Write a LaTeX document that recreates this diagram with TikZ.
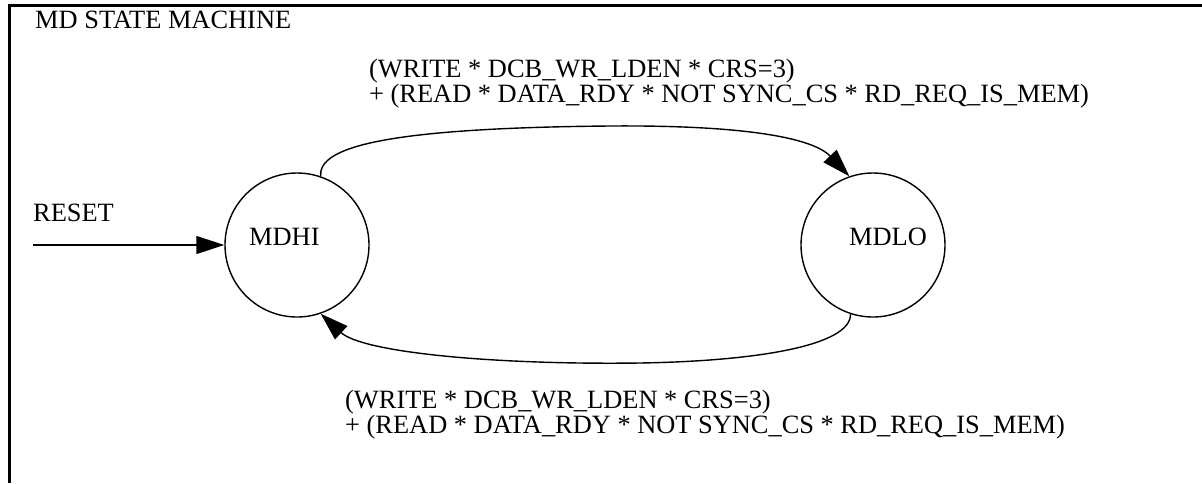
\documentclass[tikz,border=0pt]{standalone}
\usepackage{fontspec}
\setmainfont{Liberation Serif}
\usetikzlibrary{arrows.meta}
\begin{document}
\begin{tikzpicture}[x=1pt,y=-1pt,
  state/.style={draw,circle,line width=1.4pt,minimum size=144pt,inner sep=0pt},
  txt/.style={anchor=base west,inner sep=0pt,font=\fontsize{26.4}{26.4}\selectfont},
  conn/.style={line width=1.4pt,-{Triangle[length=28pt,width=18pt]}},
  frameline/.style={line width=3pt,line join=miter}]
\useasboundingbox (0,0) rectangle (1202,483);
% frame
\draw[frameline] (9.5,483) -- (9.5,5) -- (1202,5);
\node[txt] (title) at (35,28) {MD STATE MACHINE};
% states
\node[state] (mdhi) at (297,245) {};
\node[state] (mdlo) at (873,245) {};
\node[txt] (mdhitxt) at (249,245) {MDHI};
\node[txt] (mdlotxt) at (849,245.5) {MDLO};
% reset
\coordinate (resetstart) at (33,245);
\node[txt] (resettxt) at (33,221.7) {RESET};
\draw[conn] (resetstart) -- (mdhi.west);
% top transition
\draw[conn] (mdhi.71) .. controls (318,148) and (380,128) .. (610,126)
  .. controls (740,125) and (812,137) .. (mdlo.109);
\node[txt] (topa) at (369,77) {(WRITE * DCB\_WR\_LDEN * CRS=3)};
\node[txt] (topb) at (369,102) {+ (READ * DATA\_RDY * NOT SYNC\_CS * RD\_REQ\_IS\_MEM)};
% bottom transition
\draw[conn] (mdlo.-108) .. controls (851,345) and (760,361) .. (640,363)
  .. controls (490,365) and (362,352) .. (mdhi.-71);
\node[txt] (bota) at (345,408) {(WRITE * DCB\_WR\_LDEN * CRS=3)};
\node[txt] (botb) at (345,433) {+ (READ * DATA\_RDY * NOT SYNC\_CS * RD\_REQ\_IS\_MEM)};
\end{tikzpicture}
\end{document}
